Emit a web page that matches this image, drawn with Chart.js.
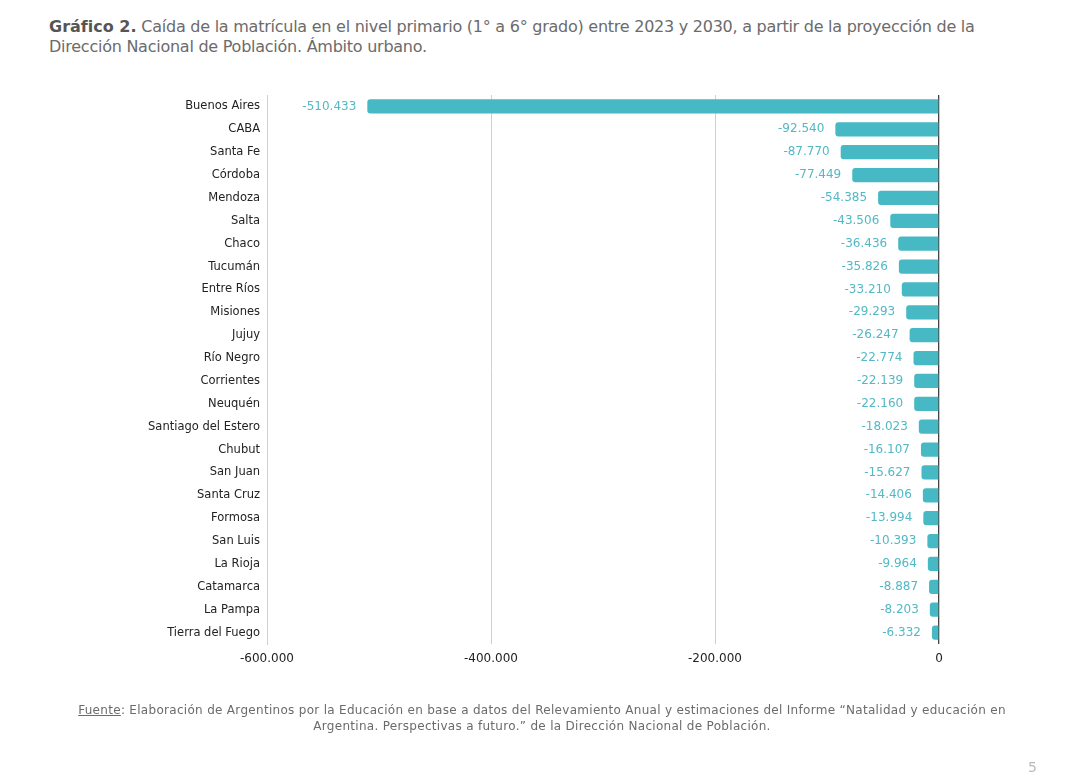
<!DOCTYPE html>
<html lang="es">
<head>
<meta charset="utf-8">
<title>Gráfico 2</title>
<script src="https://cdn.jsdelivr.net/npm/chart.js@4.4.1/dist/chart.umd.min.js"></script>
<style>
    html, body { margin: 0; padding: 0; background: #fff; }
    #page { position: relative; width: 1080px; height: 772px; overflow: hidden; }
    #chart { position: absolute; left: 0; top: 0; }
    .title {
        position: absolute; left: 49px; top: 17px; width: 1010px;
        font-family: "DejaVu Sans", sans-serif; font-size: 16px; line-height: 20px;
        letter-spacing: -0.25px; color: #6b6b6b; white-space: nowrap;
    }
    .title b { color: #555; letter-spacing: 0; }
    .footer {
        position: absolute; left: 0; top: 702px; width: 1084px; text-align: center;
        font-family: "DejaVu Sans", sans-serif; font-size: 12px; line-height: 16px;
        letter-spacing: 0.3px; color: #6b6b6b; white-space: nowrap;
    }
    .footer u { text-decoration: underline; }
    .pageno {
        position: absolute; left: 1028px; top: 759px;
        font-family: "DejaVu Sans", sans-serif; font-size: 14px; color: #bbb;
    }
</style>
</head>
<body>
<div id="page">
    <div class="title"><b>Gráfico 2.</b> Caída de la matrícula en el nivel primario (1° a 6° grado) entre 2023 y 2030, a partir de la proyección de la<br>Dirección Nacional de Población. Ámbito urbano.</div>
    <canvas id="chart" width="1080" height="772"></canvas>
    <div class="footer"><u>Fuente</u>: Elaboración de Argentinos por la Educación en base a datos del Relevamiento Anual y estimaciones del Informe “Natalidad y educación en<br>Argentina. Perspectivas a futuro.” de la Dirección Nacional de Población.</div>
    <div class="pageno">5</div>
</div>

<script>
// --- Data ---
const provincias = [
    'Buenos Aires', 'CABA', 'Santa Fe', 'Córdoba', 'Mendoza', 'Salta', 'Chaco', 'Tucumán',
    'Entre Ríos', 'Misiones', 'Jujuy', 'Río Negro', 'Corrientes', 'Neuquén',
    'Santiago del Estero', 'Chubut', 'San Juan', 'Santa Cruz', 'Formosa', 'San Luis',
    'La Rioja', 'Catamarca', 'La Pampa', 'Tierra del Fuego'
];
const caida = [
    -510433, -92540, -87770, -77449, -54385, -43506, -36436, -35826,
    -33210, -29293, -26247, -22774, -22139, -22160,
    -18023, -16107, -15627, -14406, -13994, -10393,
    -9964, -8887, -8203, -6332
];
const xTicks = [-600000, -400000, -200000, 0];

const barColor = '#47b9c4';
const labelColor = '#52b9c5';

// numbers with dot as thousands separator
function fmt(v) {
    const s = Math.abs(v).toString().replace(/\B(?=(\d{3})+(?!\d))/g, '.');
    return (v < 0 ? '-' : '') + s;
}

// value labels to the left of each bar
const valueLabels = {
    id: 'valueLabels',
    afterDatasetsDraw(chart) {
        const ctx = chart.ctx;
        const meta = chart.getDatasetMeta(0);
        ctx.save();
        ctx.font = '12px "DejaVu Sans", sans-serif';
        ctx.fillStyle = labelColor;
        ctx.textAlign = 'right';
        ctx.textBaseline = 'middle';
        meta.data.forEach((bar, i) => {
            ctx.fillText(fmt(caida[i]), bar.x - 11, bar.y);
        });
        ctx.restore();
    }
};

const ctx = document.getElementById('chart').getContext('2d');
new Chart(ctx, {
    type: 'bar',
    data: {
        labels: provincias,
        datasets: [{
            data: caida,
            backgroundColor: barColor,
            borderRadius: { topLeft: 3, bottomLeft: 3, topRight: 0, bottomRight: 0 },
            borderSkipped: false,
            barPercentage: 0.62,
            categoryPercentage: 1.0
        }]
    },
    options: {
        indexAxis: 'y',
        responsive: false,
        animation: false,
        devicePixelRatio: 1,
        layout: { padding: { top: 95, right: 141, left: 0, bottom: 0 } },
        plugins: {
            legend: { display: false },
            tooltip: { enabled: false }
        },
        scales: {
            x: {
                min: -600000,
                max: 0,
                afterBuildTicks: (scale) => { scale.ticks = xTicks.map(v => ({ value: v })); },
                afterFit: (scale) => { scale.height = 128; },
                grid: {
                    drawTicks: false,
                    color: (c) => (c.tick && c.tick.value === 0) ? '#444' : '#d0d0d0',
                    lineWidth: (c) => (c.tick && c.tick.value === 0) ? 1.3 : 1
                },
                border: { display: false },
                ticks: {
                    padding: 8,
                    color: '#222',
                    font: { family: '"DejaVu Sans", sans-serif', size: 12 },
                    callback: (v) => fmt(v)
                }
            },
            y: {
                afterFit: (scale) => { scale.width = 267; },
                grid: { display: false, drawTicks: false },
                border: { display: true, color: '#d0d0d0' },
                ticks: {
                    padding: 7,
                    color: '#222',
                    font: { family: '"DejaVu Sans", sans-serif', size: 11.5 }
                }
            }
        }
    },
    plugins: [valueLabels]
});
</script>
</body>
</html>
